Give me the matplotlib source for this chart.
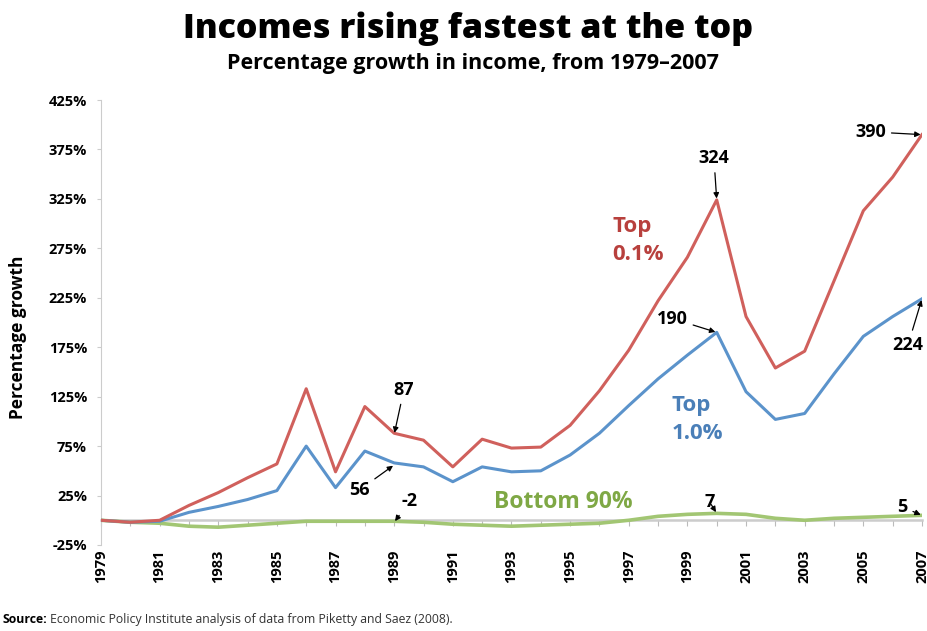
import matplotlib
matplotlib.use("Agg")
import matplotlib.pyplot as plt

plt.rcParams['font.family'] = ['Open Sans', 'DejaVu Sans']

years = list(range(1979, 2008))

# percentage growth since 1979
top01 = [0, -2, 0, 15, 28, 43, 57, 133, 49, 115, 88, 81, 54, 82, 73, 74, 96,
         131, 172, 222, 266, 324, 206, 154, 171, 242, 313, 347, 390]
top1 = [0, -2, -1, 8, 14, 21, 30, 75, 33, 70, 58, 54, 39, 54, 49, 50, 66,
        88, 116, 143, 167, 190, 130, 102, 108, 148, 186, 206, 224]
bottom90 = [0, -2, -3, -6, -7, -5, -3, -1, -1, -1, -1, -2, -4, -5, -6, -5, -4,
            -3, 0, 4, 6, 7, 6, 2, 0, 2, 3, 4, 5]

yticks = [-25, 25, 75, 125, 175, 225, 275, 325, 375, 425]
year_labels = list(range(1979, 2008, 2))

# (text, year, value, text offset in points)
callouts = [
    ("324", 2000, 324, (-2, 30)),
    ("390", 2007, 390, (-37, 2)),
    ("190", 2000, 190, (-32, 10)),
    ("224", 2007, 224, (-10, -33)),
    ("87", 1989, 87, (7, 32)),
    ("56", 1989, 56, (-25, -18)),
    ("-2", 1989, -2, (11, 15)),
    ("7", 2000, 7, (-5, 8)),
    ("5", 2007, 5, (-14, 6)),
]

red = '#d0605c'
blue = '#5b93cb'
green = '#a2c673'

fig = plt.figure(figsize=(9.28, 6.31), dpi=100)
ax = fig.add_axes([0.1088, 0.1363, 0.8847, 0.7052])

ax.plot(years, bottom90, color=green, lw=2.6, zorder=3)
ax.plot(years, top1, color=blue, lw=2.2, zorder=4)
ax.plot(years, top01, color=red, lw=2.2, zorder=5)

ax.set_xlim(1979, 2007)
ax.set_ylim(-25, 425)

# zero line carries the yearly ticks
ax.spines['bottom'].set_position(('data', 0))
ax.spines['bottom'].set_color('#cccccc')
ax.spines['bottom'].set_linewidth(1.8)
ax.spines['bottom'].set_zorder(2)
ax.set_xticks(years)
ax.tick_params(axis='x', direction='out', length=4, color='#bbbbbb',
               labelbottom=False)
for s in ['top', 'right']:
    ax.spines[s].set_visible(False)
ax.spines['left'].set_color('#cccccc')

ax.set_yticks(yticks)
ax.set_yticklabels([f"{v}%" for v in yticks], fontsize=10.5, fontweight='bold')
ax.tick_params(axis='y', direction='out', length=3, color='#cccccc', pad=7)
ax.set_ylabel("Percentage growth", fontsize=12.5, fontweight='bold')
ax.yaxis.set_label_coords(-0.09, 0.467)

sec = ax.secondary_xaxis(0.0)
sec.set_xticks(year_labels)
sec.set_xticklabels([str(y) for y in year_labels], rotation=90,
                    fontsize=10.5, fontweight='bold')
sec.tick_params(length=0, pad=3)
sec.spines['bottom'].set_visible(False)

for txt, x, y, off in callouts:
    ax.annotate(txt, xy=(x, y), xytext=off, textcoords='offset points',
                ha='center', va='center', fontsize=13, fontweight='bold',
                arrowprops=dict(arrowstyle='-|>', color='black', lw=0.9,
                                mutation_scale=8, shrinkA=2, shrinkB=1),
                annotation_clip=False, zorder=6)

ax.text(1996.45, 283, "Top\n0.1%", color='#b8403d', fontsize=16,
        fontweight='bold', linespacing=1.4, va='center', ha='left')
ax.text(1998.45, 102, "Top\n1.0%", color='#4a7fb8', fontsize=16,
        fontweight='bold', linespacing=1.4, va='center', ha='left')
ax.text(1992.4, 18, "Bottom 90%", color='#7fa845', fontsize=16.5,
        fontweight='bold', va='center', ha='left')

fig.text(0.504, 0.955, "Incomes rising fastest at the top", ha='center',
         va='center', fontsize=24.5, fontweight=800)
fig.text(0.51, 0.9, "Percentage growth in income, from 1979\u20132007",
         ha='center', va='center', fontsize=15.5, fontweight='bold')
fig.text(0.003, 0.018, "Source:", fontsize=8.8, fontweight='bold', va='center')
fig.text(0.054, 0.018,
         "Economic Policy Institute analysis of data from Piketty and Saez (2008).",
         fontsize=8.8, va='center', color='#333333')

fig.savefig("out.png", dpi=100)
